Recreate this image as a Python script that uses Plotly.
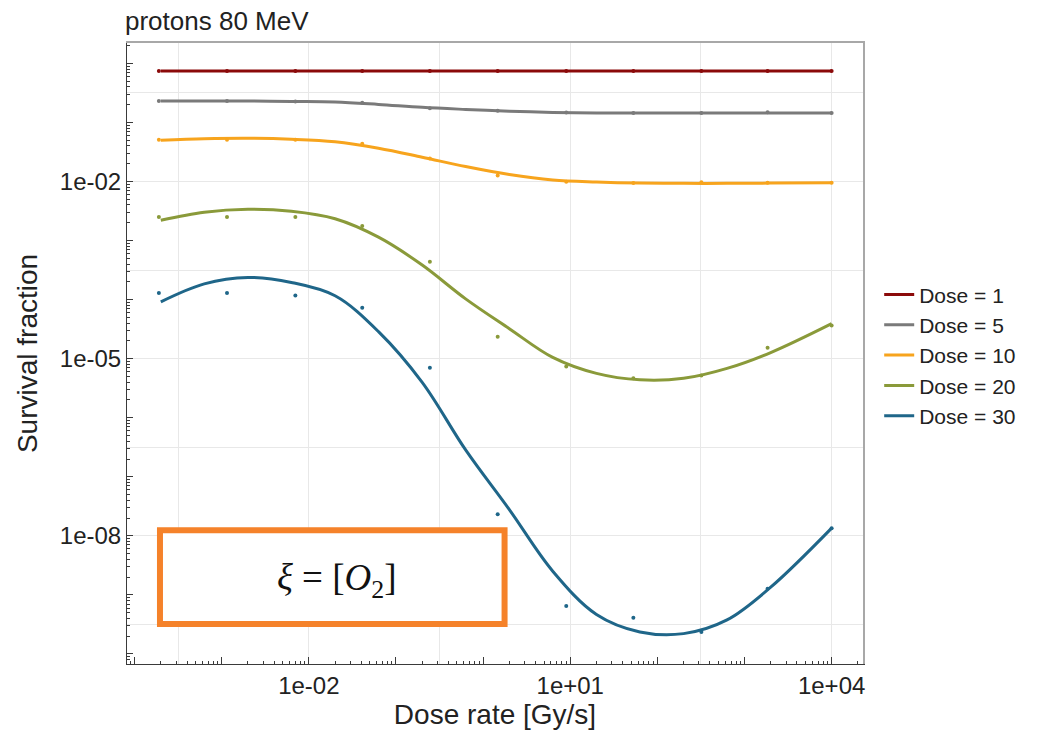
import plotly.graph_objects as go

# Smooth model curves (dose rate in Gy/s, survival fraction)
fit_rate = [2.0e-4, 6.3e-4, 2.0e-3, 6.3e-3, 2.0e-2, 6.3e-2, 0.2, 0.63,
            2.0, 6.3, 20, 63, 200, 630, 2000, 1.0e4]
fit_d1 = [0.74] * 16
fit_d5 = [0.231, 0.231, 0.231, 0.2265, 0.222, 0.202, 0.180, 0.166,
          0.155, 0.148, 0.145, 0.145, 0.145, 0.145, 0.145, 0.145]
fit_d10 = [0.0500, 0.0530, 0.0540, 0.0520, 0.0471, 0.0366, 0.0258, 0.0179,
           0.0131, 0.0106, 0.0098, 0.0094, 0.0093, 0.0093, 0.0094, 0.0095]
fit_d20 = [2.20e-3, 3.01e-3, 3.38e-3, 3.13e-3, 2.34e-3, 1.14e-3, 3.85e-4, 1.03e-4,
           3.22e-5, 1.05e-5, 5.63e-6, 4.38e-6, 4.64e-6, 6.84e-6, 1.27e-5, 3.92e-5]
fit_d30 = [9.18e-5, 1.85e-4, 2.37e-4, 1.95e-4, 1.16e-4, 2.87e-5, 3.97e-6, 2.85e-7,
           2.78e-8, 2.52e-9, 4.66e-10, 2.36e-10, 2.21e-10, 3.77e-10, 1.35e-9, 1.35e-8]

# Simulated points
sim_rate = [1.9e-4, 1.15e-3, 7.0e-3, 4.1e-2, 0.245, 1.47, 9.0, 53, 320, 1840, 1.0e4]
sim_d1 = [0.74] * 11
sim_d5 = [0.231, 0.231, 0.227, 0.216, 0.174, 0.157, 0.147, 0.145, 0.145, 0.149, 0.145]
sim_d10 = [0.0509, 0.0509, 0.0509, 0.0437, 0.0244, 0.0126, 0.00988, 0.00944,
           0.00973, 0.00951, 0.00951]
sim_d20 = [2.51e-3, 2.51e-3, 2.51e-3, 1.77e-3, 4.38e-4, 2.34e-5, 7.40e-6, 4.64e-6,
           5.21e-6, 1.53e-5, 3.66e-5]
sim_d30 = [1.29e-4, 1.29e-4, 1.17e-4, 7.28e-5, 7.03e-6, 2.32e-8, 6.47e-10, 4.11e-10,
           2.36e-10, 1.27e-9, 1.35e-8]

series_names = ["Dose = 1", "Dose = 5", "Dose = 10", "Dose = 20", "Dose = 30"]
series_colors = ["#8b0a0a", "#7a7a7a", "#f7a41d", "#8a9a3a", "#1f6689"]
fit_values = [fit_d1, fit_d5, fit_d10, fit_d20, fit_d30]
sim_values = [sim_d1, sim_d5, sim_d10, sim_d20, sim_d30]

x_labels = {1e-2: "1e-02", 1e1: "1e+01", 1e4: "1e+04"}
y_labels = {1e-2: "1e-02", 1e-5: "1e-05", 1e-8: "1e-08"}

FONT = "Liberation Sans, Arial, sans-serif"
AXIS_COLOR = "#3a3a3a"
GRID_COLOR = "#e8e8e8"
X_RANGE = [-4.087, 4.36]
Y_RANGE = [-10.17, 0.345]

fig = go.Figure()

for name, color, yv in zip(series_names, series_colors, fit_values):
    fig.add_trace(go.Scatter(
        x=fit_rate, y=yv, mode="lines", name=name,
        line=dict(color=color, width=3, shape="spline", smoothing=1.0),
    ))

for name, color, yv in zip(series_names, series_colors, sim_values):
    fig.add_trace(go.Scatter(
        x=sim_rate, y=yv, mode="markers", name=name, showlegend=False,
        marker=dict(color=color, size=4),
    ))

# empty trace to attach the overlay axes (grid + top/right frame)
fig.add_trace(go.Scatter(x=[], y=[], xaxis="x2", yaxis="y2",
                         showlegend=False, hoverinfo="skip"))

x_decades = [10.0 ** k for k in range(-4, 5)]
y_decades = [10.0 ** k for k in range(-10, 1)]
x_minor = [m * 10.0 ** k for k in range(-5, 5) for m in range(2, 10)]
y_minor = [m * 10.0 ** k for k in range(-11, 1) for m in range(2, 10)]

fig.update_layout(
    width=1054, height=734,
    margin=dict(l=127, r=191, t=43, b=67),
    paper_bgcolor="white", plot_bgcolor="white",
    font=dict(family=FONT, color="#222222"),
    title=dict(text="protons 80 MeV", x=125 / 1054, xanchor="left", xref="container",
               y=1 - 21 / 734, yanchor="middle", yref="container",
               font=dict(size=26, family=FONT, color="#222222")),
    xaxis=dict(
        type="log", range=X_RANGE, showgrid=False, zeroline=False,
        showline=True, linecolor=AXIS_COLOR, linewidth=1,
        tickmode="array", tickvals=x_decades,
        ticktext=[x_labels.get(v, "") for v in x_decades],
        ticks="inside", ticklen=7, tickwidth=1, tickcolor=AXIS_COLOR,
        minor=dict(tickvals=x_minor, ticks="inside", ticklen=3,
                   tickcolor=AXIS_COLOR, showgrid=False),
        tickfont=dict(size=24, family=FONT, color="#222222"),
        title=dict(text="Dose rate [Gy/s]", font=dict(size=28, family=FONT), standoff=4),
    ),
    yaxis=dict(
        type="log", range=Y_RANGE, showgrid=False, zeroline=False,
        showline=True, linecolor=AXIS_COLOR, linewidth=1,
        tickmode="array", tickvals=y_decades,
        ticktext=[y_labels.get(v, "") for v in y_decades],
        ticks="inside", ticklen=6, tickwidth=1, tickcolor=AXIS_COLOR,
        minor=dict(tickvals=y_minor, ticks="inside", ticklen=3,
                   tickcolor=AXIS_COLOR, showgrid=False),
        tickfont=dict(size=24, family=FONT, color="#222222"),
        title=dict(text="Survival fraction", font=dict(size=28, family=FONT), standoff=14),
    ),
    xaxis2=dict(
        type="log", range=X_RANGE, overlaying="x", anchor="y2", side="top",
        tickmode="array", tickvals=[10.0 ** v for v in (-3.5, -2, -0.5, 1, 2.5, 4)],
        showticklabels=False, ticks="", showgrid=True, gridcolor=GRID_COLOR,
        gridwidth=1, zeroline=False, showline=True, linecolor="#a8a8a8", linewidth=2,
    ),
    yaxis2=dict(
        type="log", range=Y_RANGE, overlaying="y", anchor="x2", side="right",
        tickmode="array",
        tickvals=[10.0 ** v for v in (-0.5, -2, -3.5, -5, -6.5, -8, -9.5)],
        showticklabels=False, ticks="", showgrid=True, gridcolor=GRID_COLOR,
        gridwidth=1, zeroline=False, showline=True, linecolor="#a8a8a8", linewidth=2,
    ),
    legend=dict(x=1.022, xanchor="left", y=0.497, yanchor="middle",
                font=dict(size=21, family=FONT, color="#222222"),
                bgcolor="rgba(0,0,0,0)", borderwidth=0, tracegroupgap=0),
    showlegend=True,
)

# Oxygen-concentration label box
fig.add_shape(type="rect", xref="paper", yref="paper",
              x0=0.0448, x1=0.513, y0=0.0646, y1=0.2155,
              line=dict(color="#f5822a", width=6), fillcolor="white", layer="above")
fig.add_annotation(xref="paper", yref="paper", x=0.285, y=0.135,
                   text="<i>ξ</i> = [<i>O</i><sub>2</sub>]", showarrow=False,
                   font=dict(size=37, family="Liberation Serif, Times New Roman, serif",
                             color="#111111"),
                   xanchor="center", yanchor="middle")

fig.write_html("out.html")
